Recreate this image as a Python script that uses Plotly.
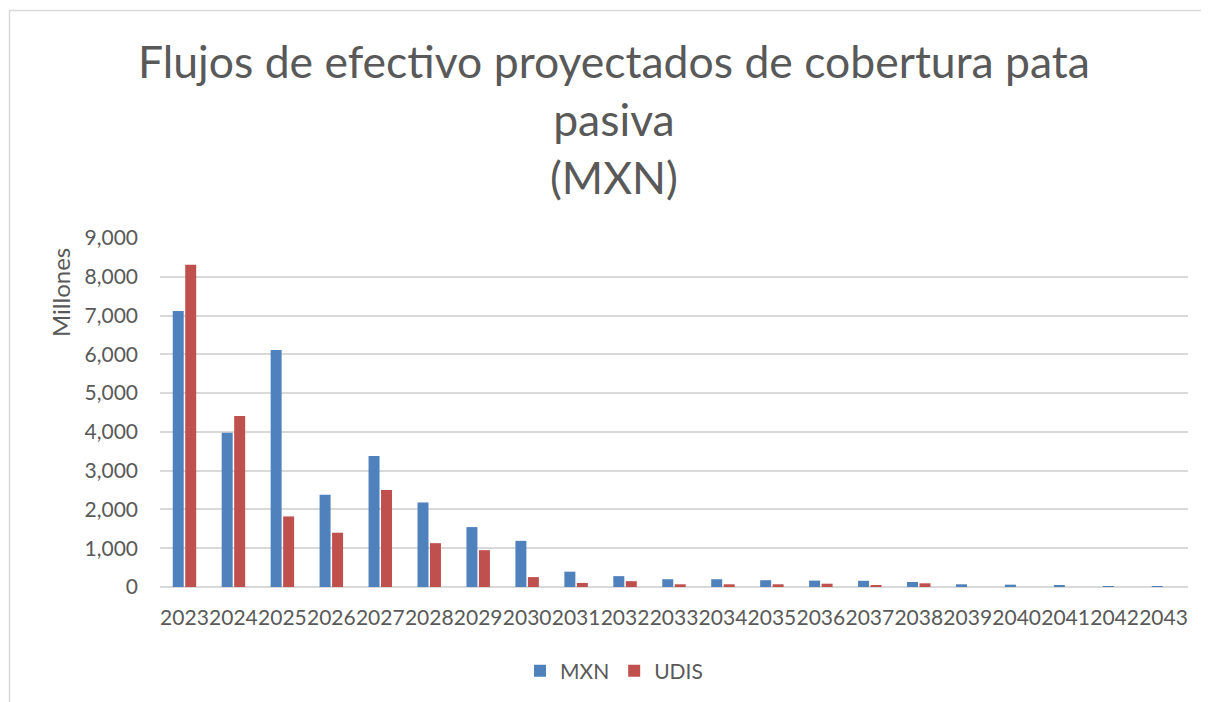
import plotly.graph_objects as go

years = [str(y) for y in range(2023, 2044)]
mxn = [7120, 3975, 6110, 2380, 3380, 2180, 1545, 1190, 395, 280, 200, 200, 175, 165,
       160, 130, 70, 60, 45, 20, 20]
udis = [8310, 4410, 1820, 1400, 2500, 1130, 950, 255, 105, 150, 70, 70, 70, 85,
        50, 95, 0, 0, 0, 0, 0]

# page body has an 8px margin, so figure pixel = reference pixel - 8
OFF = 8
W, H = 1209 - OFF, 702 - OFF
L, R, T, B = 160 - OFF, 1188 - OFF, 238 - OFF, 587 - OFF
pw, ph = R - L, B - T

def px(x):
    return (x - OFF - L) / pw

def py(y):
    return (B - (y - OFF)) / ph

txt = "#595959"
font = "Lato, Carlito, Calibri, sans-serif"

fig = go.Figure()
fig.add_bar(x=years, y=mxn, name="MXN", marker=dict(color="#4f81bd", line=dict(width=0)))
fig.add_bar(x=years, y=udis, name="UDIS", marker=dict(color="#c0504d", line=dict(width=0)))

fig.update_layout(
    width=W, height=H,
    margin=dict(l=L, r=W - R, t=T, b=H - B, pad=0),
    paper_bgcolor="white", plot_bgcolor="white",
    barmode="group", bargap=0.49, bargroupgap=0.12,
    font=dict(family=font, color=txt, size=21),
    legend=dict(
        orientation="h", x=(614 - OFF) / W, xanchor="center", xref="container",
        y=1 - (671 - OFF) / H, yanchor="middle", yref="container",
        font=dict(family=font, size=21, color=txt),
    ),
    showlegend=True,
)
fig.update_xaxes(
    type="category", showgrid=False, showline=False, ticks="",
    tickfont=dict(family=font, size=21, color=txt), tickangle=0,
    ticklabelstandoff=16,
)
fig.update_yaxes(
    range=[0, 9000], dtick=1000, tickformat=",", showgrid=True,
    gridcolor="#d9d9d9", gridwidth=1.5, zeroline=True, zerolinecolor="#d9d9d9",
    zerolinewidth=1.5, showline=False, ticks="",
    tickfont=dict(family=font, size=21, color=txt), ticklabelstandoff=21,
)
# title
fig.add_annotation(
    text="Flujos de efectivo proyectados de cobertura pata<br>pasiva<br>(MXN)",
    x=px(614), y=py(118), xref="paper", yref="paper",
    xanchor="center", yanchor="middle", showarrow=False,
    font=dict(family=font, size=44.5, color=txt),
)
# y-axis title
fig.add_annotation(
    text="Millones", textangle=-90, x=px(60), y=py(293), xref="paper", yref="paper",
    xanchor="center", yanchor="middle", showarrow=False,
    font=dict(family=font, size=24, color=txt),
)
# chart area border (extends beyond the visible window at right/bottom)
fig.add_shape(
    type="rect", xref="paper", yref="paper",
    x0=px(9.5), x1=px(1400), y0=py(900), y1=py(10.5),
    line=dict(color="#d9d9d9", width=1.5), fillcolor="rgba(0,0,0,0)", layer="below",
)

fig.write_html("out.html")
